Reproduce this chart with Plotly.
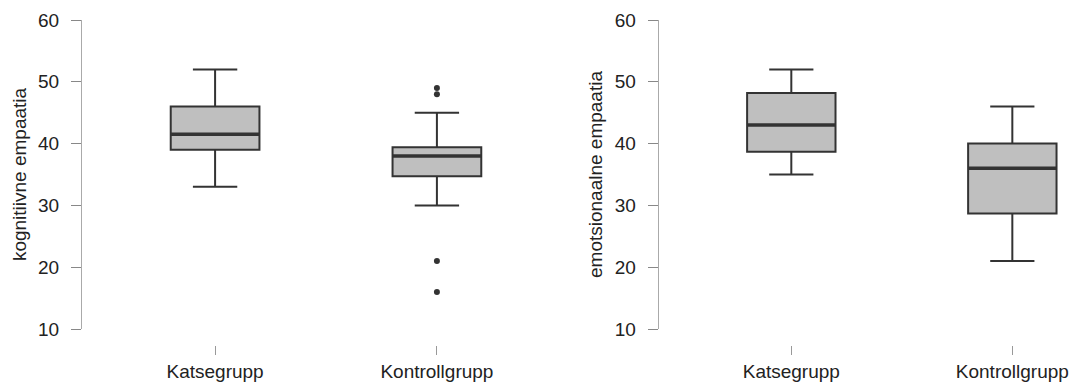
import plotly.graph_objects as go

categories = ["Katsegrupp", "Kontrollgrupp"]
cat_pos = [1, 2]

# left panel: kognitiivne empaatia
kog_low = [33, 30]
kog_q1 = [39, 34.7]
kog_med = [41.5, 38]
kog_q3 = [46, 39.4]
kog_high = [52, 45]
kog_out_x = [2, 2, 2, 2]
kog_out_y = [49, 48, 21, 16]

# right panel: emotsionaalne empaatia
emo_low = [35, 21]
emo_q1 = [38.7, 28.7]
emo_med = [43, 36]
emo_q3 = [48.2, 40]
emo_high = [52, 46]

yticks = [10, 20, 30, 40, 50, 60]

BOXW = 0.4
FILL = "#bfbfbf"
LINE = "#333333"
FONT = "Liberation Sans, Arial, sans-serif"

fig = go.Figure()

def add_panel(xa, ya, low, q1, med, q3, high):
    fig.add_trace(go.Box(
        x=cat_pos, q1=q1, median=med, q3=q3, lowerfence=low, upperfence=high,
        width=BOXW, whiskerwidth=0.5, fillcolor=FILL,
        line=dict(color=LINE, width=2), boxpoints=False,
        xaxis=xa, yaxis=ya, showlegend=False, hoverinfo="skip"))
    for c, m in zip(cat_pos, med):
        fig.add_trace(go.Scatter(
            x=[c - BOXW / 2, c + BOXW / 2], y=[m, m], mode="lines",
            line=dict(color=LINE, width=3.5), xaxis=xa, yaxis=ya,
            showlegend=False, hoverinfo="skip"))

add_panel("x", "y", kog_low, kog_q1, kog_med, kog_q3, kog_high)
fig.add_trace(go.Scatter(x=kog_out_x, y=kog_out_y, mode="markers",
                         marker=dict(color=LINE, size=6), showlegend=False,
                         xaxis="x", yaxis="y", hoverinfo="skip"))
add_panel("x2", "y2", emo_low, emo_q1, emo_med, emo_q3, emo_high)

H = 382
T = 20
ph = H - T
ydom_bottom = (H - 329) / ph
xpos = (H - 345) / ph

yax = dict(range=[10, 60], tickvals=yticks, ticks="outside", ticklen=10,
           tickcolor="#888", showline=True, linecolor="#aaa", linewidth=1,
           showgrid=False, zeroline=False, domain=[ydom_bottom, 1],
           automargin=False,
           tickfont=dict(size=19, color="#222", family=FONT),
           ticklabelstandoff=8)
xax = dict(tickvals=cat_pos, ticktext=categories, ticks="outside", ticklen=9,
           tickcolor="#999", showline=False, showgrid=False, zeroline=False,
           anchor="free", position=xpos, automargin=False,
           tickfont=dict(size=19, color="#222", family=FONT))

fig.update_layout(
    width=1074, height=H,
    margin=dict(l=0, r=0, t=T, b=0),
    paper_bgcolor="white", plot_bgcolor="white",
    font=dict(family=FONT, color="#222"),
    xaxis=dict(xax, domain=[82 / 1074, 570 / 1074], range=[0.4, 2.6]),
    xaxis2=dict(xax, domain=[658.7 / 1074, 1072 / 1074], range=[0.4, 2.27]),
    yaxis=dict(yax, anchor="x", title=dict(text="kognitiivne empaatia",
                                            standoff=6,
                                            font=dict(size=19, family=FONT))),
    yaxis2=dict(yax, anchor="x2", title=dict(text="emotsionaalne empaatia",
                                              standoff=7,
                                              font=dict(size=19, family=FONT))),
)

fig.write_html("out.html",
               config={"displayModeBar": False},
               post_script="document.body.style.margin='0';"
                           "document.body.style.overflow='hidden';")
